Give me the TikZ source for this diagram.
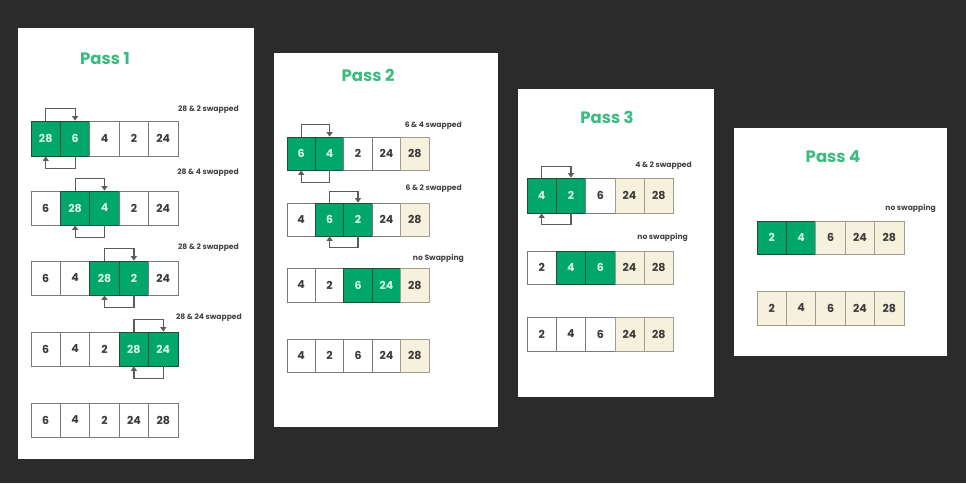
\documentclass[tikz,border=0pt]{standalone}
\usepackage{fontspec}
\setmainfont{Poppins}
\usetikzlibrary{arrows.meta}
\definecolor{bgdark}{HTML}{2B2B2B}
\definecolor{titlegreen}{HTML}{3BBB7F}
\definecolor{cellgreen}{HTML}{00A66A}
\definecolor{minttext}{HTML}{D8F3E6}
\definecolor{creamfill}{HTML}{F6F1DC}
\definecolor{numgray}{HTML}{3A3A3A}
\definecolor{lblgray}{HTML}{444444}
\definecolor{arrgray}{HTML}{5C5C5C}
\definecolor{wline}{HTML}{7A7A7A}
\definecolor{gline}{HTML}{1E4D3A}
\definecolor{cline}{HTML}{A09C8C}
\tikzset{
  panel/.style={fill=white, draw=none},
  cell/.style={draw=wline, line width=0.8pt, inner sep=0pt, fill=white,
    text=numgray, font=\fontsize{11}{13}\selectfont\bfseries},
  w/.style={},
  g/.style={fill=cellgreen, draw=gline, text=minttext},
  c/.style={fill=creamfill, draw=cline},
  lbl/.style={anchor=east, inner sep=0pt, text=lblgray, font=\fontsize{7.6}{9}\selectfont\bfseries},
  ptitle/.style={text=titlegreen, inner sep=0pt, font=\fontsize{16.5}{18}\selectfont\bfseries},
  swaparr/.style={draw=arrgray, line width=1.2pt, -{Triangle[width=6pt,length=4.5pt]}}
}
% #1 name, #2 x0, #3 ytop, #4 width, #5 height, #6 list style/value
\newcommand\mkrow[6]{%
  \foreach [count=\i] \s/\v in {#6} {%
    \node[cell,\s,minimum width=#4pt,minimum height=#5pt] (#1-\i) at ({#2+(\i-0.5)*#4},{#3+#5/2}) {\v};
  }%
}
% #1 name, #2 left index, #3 right index, #4 offset
\newcommand\mkswap[4]{%
  \draw[swaparr] (#1-#2.north) -- ++(0,-#4) -| (#1-#3.north);
  \draw[swaparr] (#1-#3.south) -- ++(0,#4) -| (#1-#2.south);
}
\begin{document}
\begin{tikzpicture}[x=1pt,y=-1pt]
\path[fill=bgdark,use as bounding box] (0,0) rectangle (966,483);
% panels
\path[panel] (18,28) rectangle (254,459);
\path[panel] (274,53) rectangle (498,427);
\path[panel] (518,89) rectangle (714,397);
\path[panel] (734,128) rectangle (947,356);
% titles
\node[ptitle] (t1) at (105,59) {Pass 1};
\node[ptitle] (t2) at (368,75) {Pass 2};
\node[ptitle] (t3) at (607,117) {Pass 3};
\node[ptitle] (t4) at (833,157) {Pass 4};
% Pass 1
\mkrow{pa}{31}{121}{29.4}{35}{g/28,g/6,w/4,w/2,w/24}
\mkswap{pa}{1}{2}{12}
\node[lbl] (la) at (239,110) {28 \& 2 swapped};
\mkrow{pb}{31}{191}{29.4}{34}{w/6,g/28,g/4,w/2,w/24}
\mkswap{pb}{2}{3}{12}
\node[lbl] (lb) at (239,173) {28 \& 4 swapped};
\mkrow{pc}{31}{261}{29.4}{34}{w/6,w/4,g/28,g/2,w/24}
\mkswap{pc}{3}{4}{12}
\node[lbl] (lc) at (239,248) {28 \& 2 swapped};
\mkrow{pd}{31}{332}{29.4}{34}{w/6,w/4,w/2,g/28,g/24}
\mkswap{pd}{4}{5}{12}
\node[lbl] (ld) at (242,318) {28 \& 24 swapped};
\mkrow{pe}{31}{403}{29.4}{34}{w/6,w/4,w/2,w/24,w/28}
% Pass 2
\mkrow{qa}{287}{137}{28.4}{33}{g/6,g/4,w/2,w/24,c/28}
\mkswap{qa}{1}{2}{12}
\node[lbl] (ma) at (462,126) {6 \& 4 swapped};
\mkrow{qb}{287}{203}{28.4}{33}{w/4,g/6,g/2,w/24,c/28}
\mkswap{qb}{2}{3}{11}
\node[lbl] (mb) at (462,189) {6 \& 2 swapped};
\mkrow{qc}{287}{268}{28.4}{34}{w/4,w/2,g/6,g/24,c/28}
\node[lbl] (mc) at (464,258) {no Swapping};
\mkrow{qd}{287}{339}{28.4}{33}{w/4,w/2,w/6,w/24,c/28}
% Pass 3
\mkrow{ra}{527}{178}{29.3}{35}{g/4,g/2,w/6,c/24,c/28}
\mkswap{ra}{1}{2}{11}
\node[lbl] (na) at (692,166) {4 \& 2 swapped};
\mkrow{rb}{527}{251}{29.3}{33}{w/2,g/4,g/6,c/24,c/28}
\node[lbl] (nb) at (688,237) {no swapping};
\mkrow{rc}{527}{317}{29.3}{34}{w/2,w/4,w/6,c/24,c/28}
% Pass 4
\mkrow{sa}{757}{221}{29.4}{33}{g/2,g/4,c/6,c/24,c/28}
\node[lbl] (oa) at (936,208) {no swapping};
\mkrow{sb}{757}{291}{29.4}{34}{c/2,c/4,c/6,c/24,c/28}
\end{tikzpicture}
\end{document}
